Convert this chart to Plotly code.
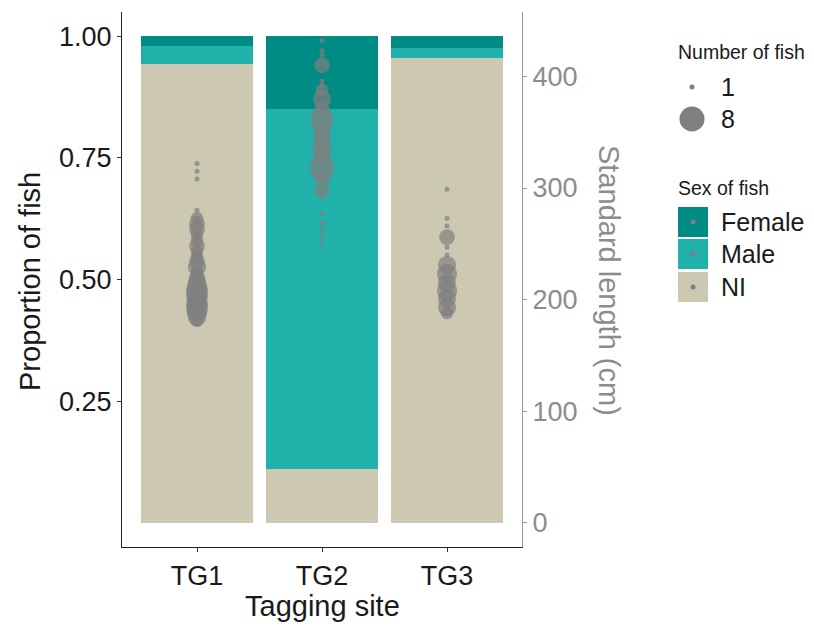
import plotly.graph_objects as go

# ---------------- data ----------------
sites = ["TG1", "TG2", "TG3"]
prop_female = [0.020, 0.150, 0.024]
prop_male = [0.037, 0.740, 0.021]
prop_ni = [0.943, 0.110, 0.955]

tg1_length = [322, 315, 308, 280, 273, 268, 263, 258, 253, 248, 243, 238, 234, 229,
              225, 220, 216, 212, 208, 204, 200, 196, 192, 188, 184, 181]
tg1_count = [1, 1, 1, 1, 2, 3, 3, 2, 2, 3, 2, 2, 3, 4, 2, 3, 4, 5, 6, 6, 5, 6, 6, 5, 4, 2]

tg2_length = [432, 423, 419, 410, 396, 392, 388, 380, 370, 361, 352, 343, 335, 327,
              318, 309, 298, 292, 277, 269, 264, 257, 251]
tg2_count = [1, 1, 1, 3, 1, 1, 2, 4, 3, 7, 4, 4, 5, 4, 8, 3, 3, 1, 1, 1, 1, 1, 1]

tg3_length = [299, 273, 266, 256, 247, 240, 231, 223, 215, 208, 201, 193, 188]
tg3_count = [1, 1, 1, 3, 1, 1, 4, 5, 4, 5, 4, 4, 2]

size_legend_values = [1, 8]
sex_labels = ["Female", "Male", "NI"]

# ---------------- styles ----------------
COL_F = "#008B85"
COL_M = "#20B2AA"
COL_NI = "#CDC8B1"
PT = "#7F7F7F"
FONT = "Liberation Sans, Arial, sans-serif"
SEC_FACTOR = 436.0

D_MIN, D_MAX = 5.0, 25.0
def diam(n):
    return D_MIN + (D_MAX - D_MIN) * ((n - 1) / 7.0) ** 0.5

OFF = 8  # page body margin
W, H = 814 - OFF, 628 - OFF
L, T = 122 - OFF, 12 - OFF
R = W - (522 - OFF)
B = H - (547 - OFF)
PW, PH = W - L - R, H - T - B

def px2x(px):
    return (px - OFF - L) / PW

def px2y(py):
    return (H - B - (py - OFF)) / PH

fig = go.Figure()
for vals, col in [(prop_ni, COL_NI), (prop_male, COL_M), (prop_female, COL_F)]:
    fig.add_trace(go.Bar(x=sites, y=vals, width=0.9, marker=dict(color=col, line=dict(width=0)),
                         showlegend=False, hoverinfo="skip"))

for site, lens, cnts in [("TG1", tg1_length, tg1_count), ("TG2", tg2_length, tg2_count),
                         ("TG3", tg3_length, tg3_count)]:
    fig.add_trace(go.Scatter(x=[site] * len(lens), y=lens, mode="markers", yaxis="y2",
                             marker=dict(color=PT, size=[diam(c) for c in cnts], line=dict(width=0)),
                             showlegend=False))

TICK = 27
fig.update_layout(
    width=W, height=H, autosize=False,
    margin=dict(l=L, r=R, t=T, b=B, pad=0),
    plot_bgcolor="white", paper_bgcolor="white",
    barmode="stack", bargap=0.1,
    font=dict(family=FONT, color="#1a1a1a"),
    xaxis=dict(type="category", range=[-0.6, 2.6], showline=True, linecolor="#222", linewidth=1.3,
               ticks="outside", ticklen=4, tickcolor="#333", tickfont=dict(size=TICK, color="#1a1a1a"),
               showgrid=False, zeroline=False),
    yaxis=dict(range=[-0.05, 1.05], tickvals=[0.25, 0.5, 0.75, 1.0],
               ticktext=["0.25", "0.50", "0.75", "1.00"], showline=True, linecolor="#222",
               linewidth=1.3, ticks="outside", ticklen=4, tickcolor="#333",
               tickfont=dict(size=TICK, color="#1a1a1a"), showgrid=False, zeroline=False),
    yaxis2=dict(overlaying="y", side="right", anchor="x",
                range=[-0.05 * SEC_FACTOR, 1.05 * SEC_FACTOR], tickvals=[0, 100, 200, 300, 400],
                showline=True, linecolor="#999", linewidth=1.3, ticks="outside", ticklen=4,
                tickcolor="#999", tickfont=dict(size=TICK, color="#8c8c8c"),
                showgrid=False, zeroline=False),
)

ann = []
ann.append(dict(text="Proportion of fish", x=px2x(30), y=px2y(282), xref="paper", yref="paper",
                textangle=-90, showarrow=False, font=dict(size=29, color="#1a1a1a"),
                xanchor="center", yanchor="middle"))
ann.append(dict(text="Tagging site", x=px2x(322), y=px2y(606), xref="paper", yref="paper",
                showarrow=False, font=dict(size=29, color="#1a1a1a"), xanchor="center", yanchor="middle"))
ann.append(dict(text="Standard length (cm)", x=px2x(609), y=px2y(280), xref="paper", yref="paper",
                textangle=90, showarrow=False, font=dict(size=29, color="#8c8c8c"),
                xanchor="center", yanchor="middle"))

shapes = []
# size legend
ann.append(dict(text="Number of fish", x=px2x(676), y=px2y(52), xref="paper", yref="paper",
                showarrow=False, font=dict(size=19.5, color="#1a1a1a"), xanchor="left", yanchor="middle"))
for v, cy in zip(size_legend_values, [87, 119]):
    d = diam(v)
    shapes.append(dict(type="circle", xref="paper", yref="paper",
                       x0=px2x(692 - d / 2), x1=px2x(692 + d / 2), y0=px2y(cy + d / 2), y1=px2y(cy - d / 2),
                       fillcolor=PT, line=dict(width=0)))
    ann.append(dict(text=str(v), x=px2x(719), y=px2y(cy), xref="paper", yref="paper", showarrow=False,
                    font=dict(size=25, color="#1a1a1a"), xanchor="left", yanchor="middle"))

# sex legend
ann.append(dict(text="Sex of fish", x=px2x(676), y=px2y(188), xref="paper", yref="paper",
                showarrow=False, font=dict(size=19.5, color="#1a1a1a"), xanchor="left", yanchor="middle"))
for lab, col, cy in zip(sex_labels, [COL_F, COL_M, COL_NI], [222, 254, 287]):
    shapes.append(dict(type="rect", xref="paper", yref="paper",
                       x0=px2x(678), x1=px2x(708), y0=px2y(cy + 15), y1=px2y(cy - 15),
                       fillcolor=col, line=dict(width=0)))
    shapes.append(dict(type="circle", xref="paper", yref="paper",
                       x0=px2x(690.5), x1=px2x(695.5), y0=px2y(cy + 2.5), y1=px2y(cy - 2.5),
                       fillcolor=PT, line=dict(width=0)))
    ann.append(dict(text=lab, x=px2x(719), y=px2y(cy), xref="paper", yref="paper", showarrow=False,
                    font=dict(size=25, color="#1a1a1a"), xanchor="left", yanchor="middle"))

fig.update_layout(annotations=ann, shapes=shapes)
fig.write_html("out.html")
